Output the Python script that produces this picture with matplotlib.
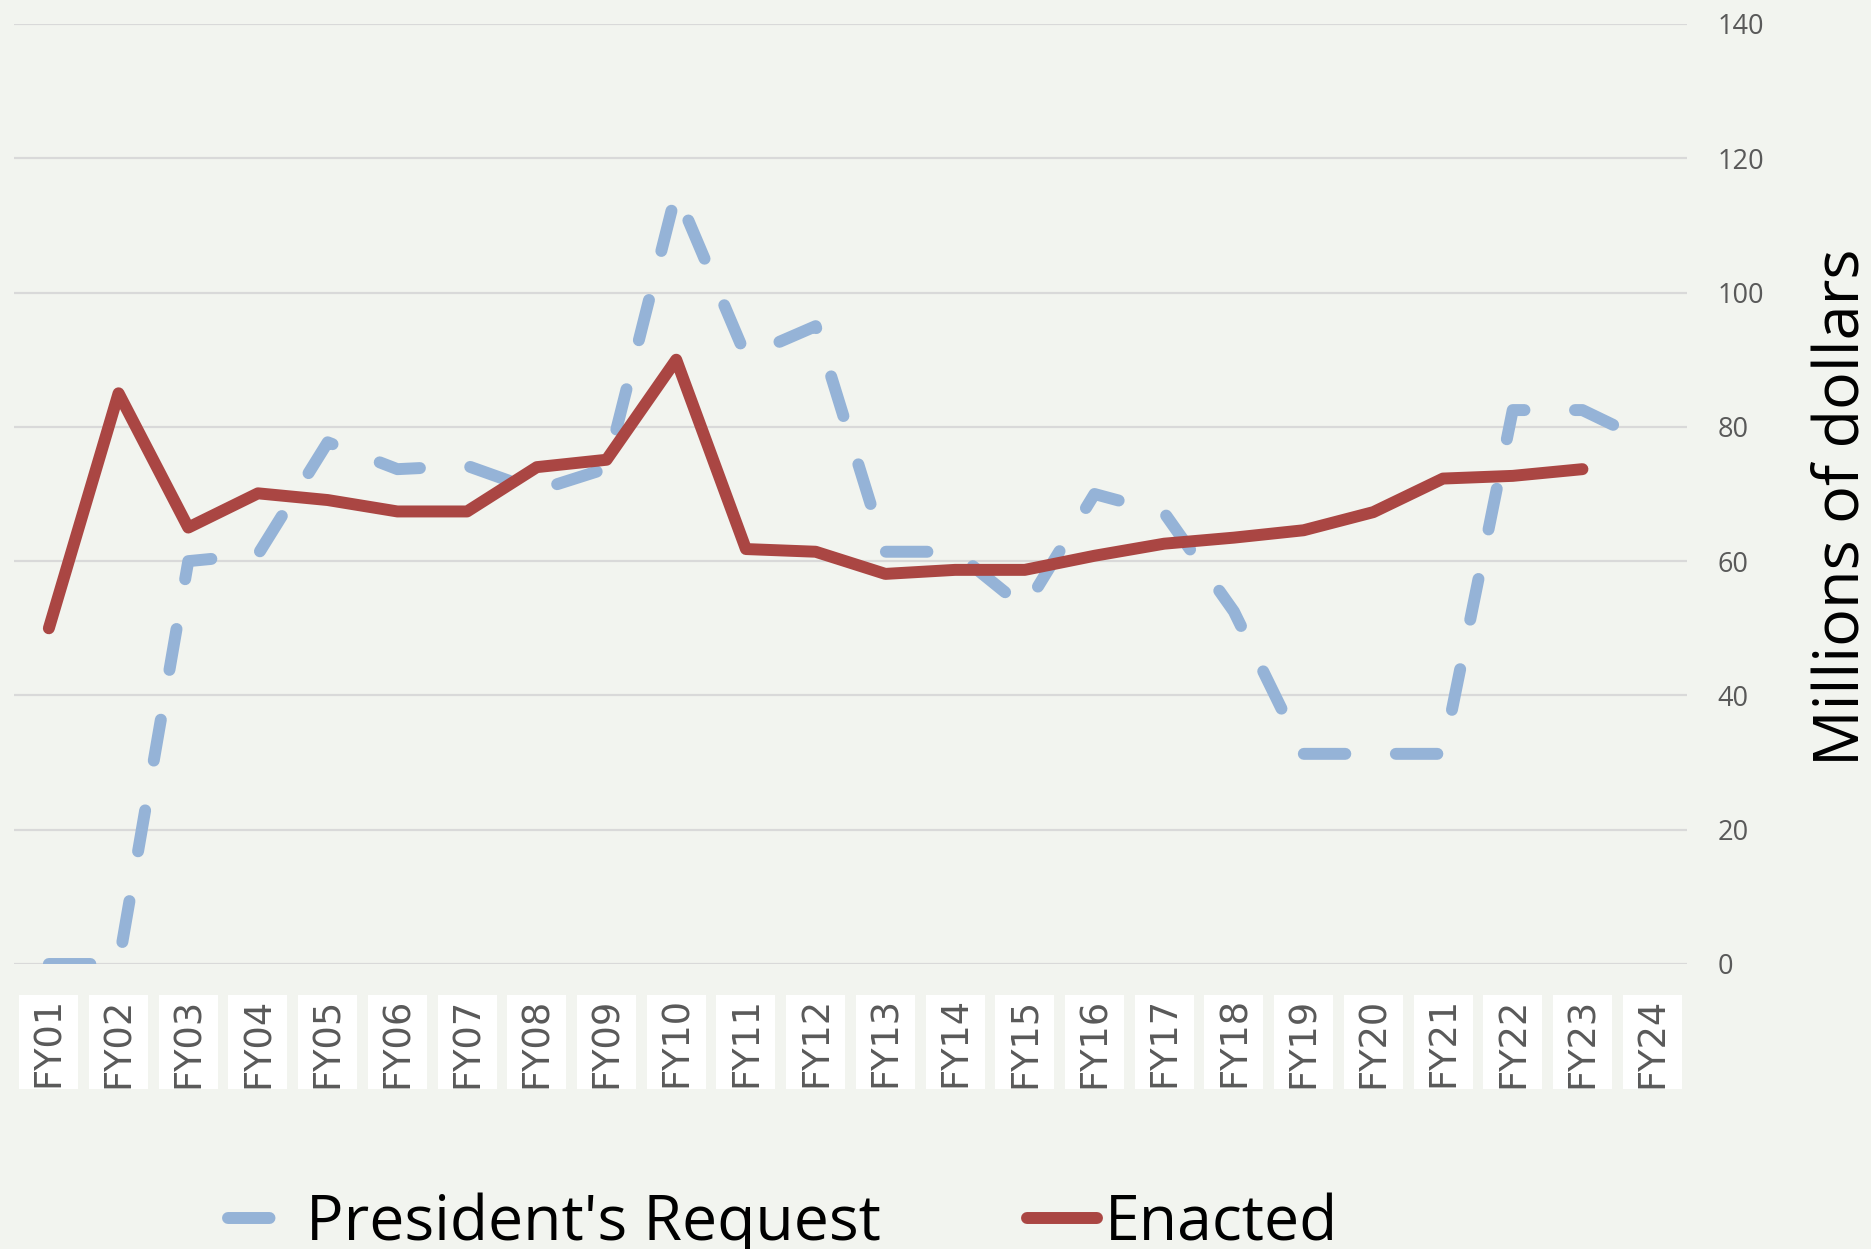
import numpy as np
import matplotlib
matplotlib.use("Agg")
import matplotlib.pyplot as plt
from matplotlib.patches import Rectangle
from matplotlib.transforms import blended_transform_factory

years = ['FY01', 'FY02', 'FY03', 'FY04', 'FY05', 'FY06', 'FY07', 'FY08', 'FY09', 'FY10',
         'FY11', 'FY12', 'FY13', 'FY14', 'FY15', 'FY16', 'FY17', 'FY18', 'FY19', 'FY20',
         'FY21', 'FY22', 'FY23', 'FY24']
request = [0, 0, 60.0, 61.0, 77.7, 73.7, 74.2, 70.5, 73.8, 115.0,
           90.5, 95.0, 61.4, 61.4, 53.0, 70.0, 67.2, 52.5, 31.3, 31.3,
           31.3, 82.5, 82.5, 77.5]
enacted = [50.0, 85.0, 65.0, 70.1, 69.1, 67.4, 67.4, 74.0, 75.1, 90.0,
           61.8, 61.4, 58.1, 58.7, 58.7, 60.8, 62.6, 63.5, 64.6, 67.3,
           72.3, 72.7, 73.7, np.nan]
yticks = [0, 20, 40, 60, 80, 100, 120, 140]

BG = '#F2F4EF'
BLUE = '#95B3D7'
RED = '#AA4643'
GREY = '#595959'

W, H = 1871, 1249
fig = plt.figure(figsize=(W / 100, H / 100), dpi=100, facecolor=BG)
ax = fig.add_axes([14 / W, 1 - 964 / H, 1673 / W, 940 / H], facecolor=BG)

x = np.arange(len(years))
LW = 8.6
ax.plot(x, request, color=BLUE, lw=LW, ls=(0, (3.476, 4.23)),
        dash_capstyle='round', dash_joinstyle='round', zorder=3,
        label="President's Request")
ax.plot(x, enacted, color=RED, lw=LW, solid_capstyle='round',
        solid_joinstyle='round', zorder=4, label='Enacted')

ax.set_xlim(-0.5, len(years) - 0.5)
ax.set_ylim(0, 140)
ax.set_yticks(yticks)
ax.yaxis.tick_right()
ax.grid(axis='y', color='#D9D9D9', lw=1.6)
ax.set_axisbelow(True)
for s in ax.spines.values():
    s.set_visible(False)

ax.set_xticks(x)
ax.set_xticklabels(years, rotation=90, fontsize=26.5, color=GREY,
                   fontfamily='DejaVu Sans')
ax.tick_params(axis='x', length=0, pad=24)
ax.tick_params(axis='y', length=0, pad=22, labelsize=19.5, labelcolor=GREY)
for lab in ax.get_yticklabels():
    lab.set_fontfamily(['Open Sans', 'DejaVu Sans'])

# white boxes behind category labels
tr = blended_transform_factory(ax.transData, fig.transFigure)
for i in x:
    ax.add_patch(Rectangle((i - 0.423, 1 - 1089 / H), 0.846, 94 / H,
                           transform=tr, facecolor='white', edgecolor='none',
                           clip_on=False, zorder=0.1))

fig.text(1842 / W, 1 - 507 / H, 'Millions of dollars', rotation=90,
         ha='center', va='center', fontsize=45.4, color='black',
         fontfamily=['Open Sans', 'DejaVu Sans'])

leg = fig.legend(loc='center', bbox_to_anchor=(783 / W, 1 - 1224 / H),
                 ncol=2, frameon=False, handlelength=1.12, handletextpad=0.12,
                 columnspacing=2.35, borderpad=0, borderaxespad=0,
                 prop={'family': ['Open Sans', 'DejaVu Sans'], 'size': 44.9})

fig.savefig('out.png', dpi=100, facecolor=BG)
